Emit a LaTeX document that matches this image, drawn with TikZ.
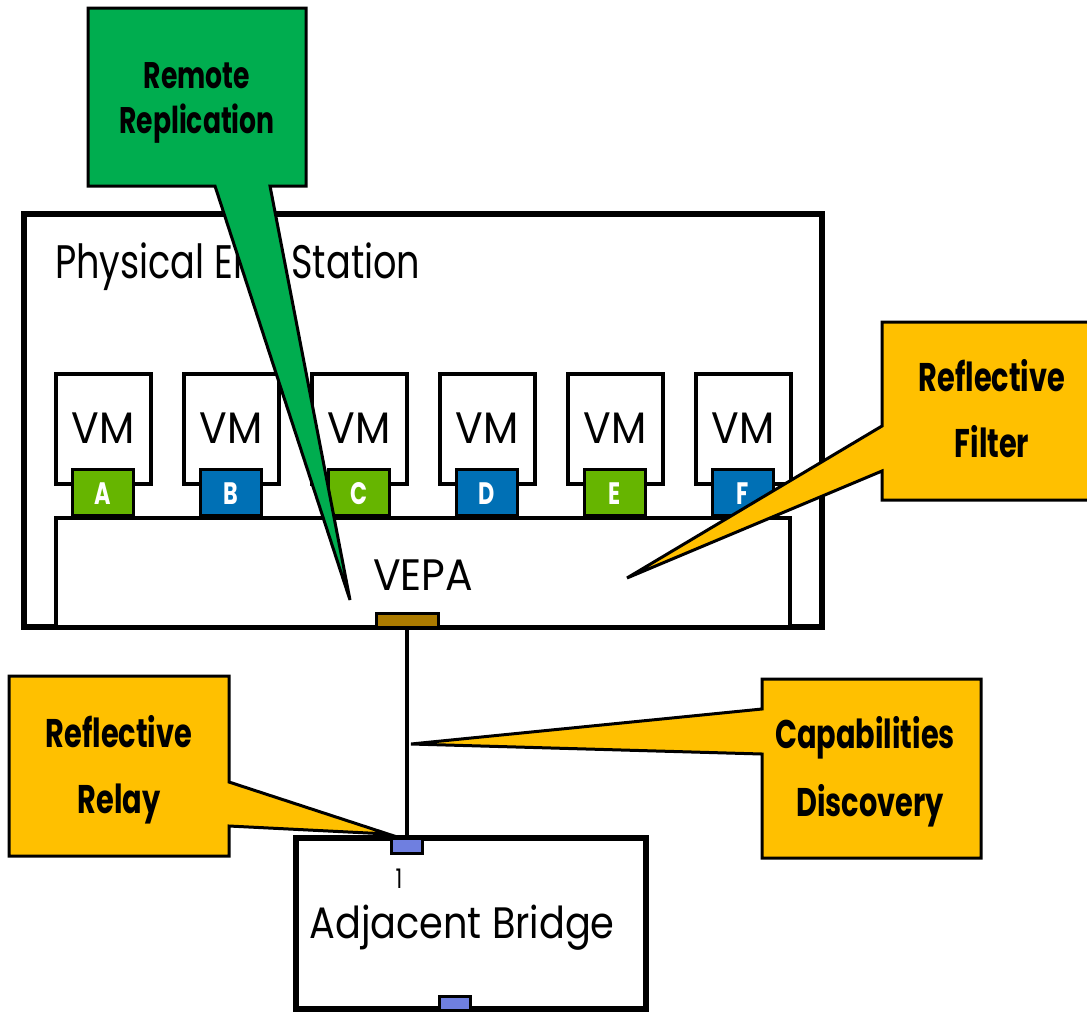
\documentclass[tikz,border=0pt]{standalone}
\usepackage{fontspec}
\setmainfont{Poppins}[FakeStretch=0.78]
\newfontfamily\widefont{Poppins}[FakeStretch=0.93]
\newfontfamily\midfont{Poppins}[FakeStretch=0.87]
\newfontfamily\calloutfont{Poppins}[FakeStretch=0.72]
\definecolor{calgreen}{HTML}{00AD4F}
\definecolor{calorange}{HTML}{FFC000}
\definecolor{portgreen}{HTML}{66B500}
\definecolor{portblue}{HTML}{0070B5}
\definecolor{portbrown}{HTML}{AC7B00}
\definecolor{bportblue}{HTML}{6F7FE0}
\begin{document}
\begin{tikzpicture}[x=1pt,y=-1pt,
  box/.style={draw=black,fill=white,line width=4pt},
  vmport/.style={draw=black,line width=3.5pt,minimum width=61pt,minimum height=46pt,inner sep=0pt},
  smallport/.style={draw=black,line width=3pt,inner sep=0pt},
  callout/.style={draw=black,line width=3pt,line join=miter},
  ctext/.style={font=\calloutfont\bfseries\fontsize{40}{40}\selectfont,anchor=base,inner sep=0pt},
  rtext/.style={font=\widefont\fontsize{44}{44}\selectfont,inner sep=0pt}]
\useasboundingbox (0,0) rectangle (1087,1013);
\fill[white] (0,0) rectangle (1087,1013);
% outer station box
\draw[line width=5.5pt,fill=white] (24,214) rectangle (822,627);
\node[inner sep=0pt,anchor=base west,font=\fontsize{47}{47}\selectfont] (title) at (55,278) {Physical End Station};
% VMs
\foreach \i/\l/\c in {0/A/portgreen,1/B/portblue,2/C/portgreen,3/D/portblue,4/E/portgreen,5/F/portblue}{
  \pgfmathsetmacro{\xa}{55.5+128*\i}
  \pgfmathsetmacro{\xc}{103+128*\i}
  \draw[box] (\xa,374) rectangle ++(95,110);
  \node[rtext,anchor=base] (vm\l) at (\xc,443) {VM};
  \node[vmport,fill=\c] (port\l) at (\xc,492.5) {};
  \node[text=white,font=\calloutfont\bfseries\fontsize{31}{31}\selectfont,anchor=base,inner sep=0pt] (lab\l) at (\xc,504) {\l};
}
% VEPA
\draw[box,line width=3.5pt] (56,518) rectangle (790,627);
\node[rtext,anchor=base] (vepa) at (423,590) {VEPA};
\node[smallport,fill=portbrown,minimum width=62pt,minimum height=14pt] (vport) at (407,620) {};
% bridge
\draw[line width=5.5pt,fill=white] (296,838) rectangle (646,1009);
\node[smallport,fill=bportblue,minimum width=31pt,minimum height=15pt] (bport1) at (407,845.5) {};
\node[smallport,fill=bportblue,minimum width=31pt,minimum height=14pt] (bport2) at (455,1003) {};
\node[inner sep=0pt,anchor=base,font=\fontsize{27}{27}\selectfont] (one) at (399,888) {1};
\node[inner sep=0pt,anchor=base,font=\midfont\fontsize{44}{44}\selectfont] (bridge) at (462,938) {Adjacent Bridge};
% link
\draw[line width=3.5pt] (vport.south) -- (bport1.north);
% callouts
\coordinate (tipRR) at (350,600);
\coordinate (tipRF) at (627,578);
\coordinate (tipCD) at (411,744);
\coordinate (tipRL) at (388,834);
\draw[callout,fill=calgreen] (88,8) -- (306,8) -- (306,186) -- (270,186) -- (tipRR) -- (215,186) -- (88,186) -- cycle;
\node[ctext,font=\calloutfont\bfseries\fontsize{37}{37}\selectfont] (rr1) at (197,88) {Remote};
\node[ctext,font=\calloutfont\bfseries\fontsize{37}{37}\selectfont] (rr2) at (197,133) {Replication};
\draw[callout,fill=calorange] (882,322) -- (1092,322) -- (1092,500) -- (882,500) -- (882,471) -- (tipRF) -- (882,426) -- cycle;
\node[ctext] (rf1) at (992,391) {Reflective};
\node[ctext] (rf2) at (992,457) {Filter};
\draw[callout,fill=calorange] (762,679) -- (981,679) -- (981,858) -- (762,858) -- (762,754) -- (tipCD) -- (762,709) -- cycle;
\node[ctext] (cd1) at (865,748) {Capabilities};
\node[ctext] (cd2) at (870,816) {Discovery};
\draw[callout,fill=calorange] (9,676) -- (229,676) -- (229,782) -- (tipRL) -- (229,826) -- (229,856) -- (9,856) -- cycle;
\node[ctext] (rl1) at (119,747) {Reflective};
\node[ctext] (rl2) at (119,813) {Relay};
\end{tikzpicture}
\end{document}
